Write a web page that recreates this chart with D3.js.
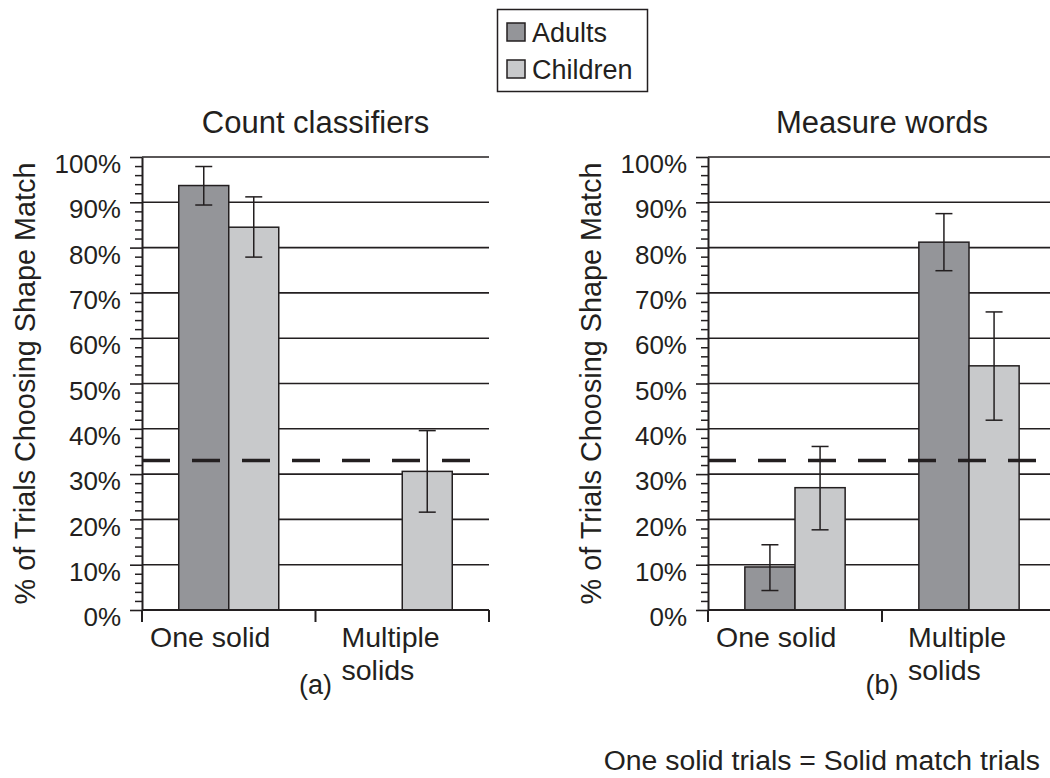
<!DOCTYPE html>
<html>
<head>
<meta charset="utf-8">
<script src="https://cdn.jsdelivr.net/npm/d3@7"></script>
<style>
  body { margin: 0; background: #fff; }
  text { font-family: 'Liberation Sans', Arial, sans-serif; fill: #231f20; }
</style>
</head>
<body>
<svg class="chart"></svg>
<script>
// data (% of trials)
const categories = ['One solid', 'Multiple solids'];
const groups = ['Adults', 'Children'];
const yTicks = [0, 10, 20, 30, 40, 50, 60, 70, 80, 90, 100];

const countAdults = [93.7, null];
const countAdultsErr = [[89.4, 97.9], null];
const countChildren = [84.5, 30.6];
const countChildrenErr = [[77.9, 91.2], [21.6, 39.6]];

const measureAdults = [9.5, 81.2];
const measureAdultsErr = [[4.3, 14.4], [74.9, 87.5]];
const measureChildren = [27.0, 53.9];
const measureChildrenErr = [[17.7, 36.1], [41.9, 65.8]];

const chance = 33;

const colors = { Adults: '#949599', Children: '#c8c9cb' };
const ink = '#231f20';

const svgWidth = 1050;
const svgHeight = 778;

const svg = d3.select('.chart')
  .attr('width', svgWidth)
  .attr('height', svgHeight);

svg.append('rect').attr('width', svgWidth).attr('height', svgHeight).attr('fill', '#fff');

const yScale = d3.scaleLinear().domain([0, 100]).range([610, 157]);

function drawPanel(opts) {
  const xScale = d3.scaleBand()
    .domain(categories)
    .range([opts.left, opts.right])
    .padding(0);

  const groupScale = d3.scaleBand()
    .domain(groups)
    .range([0, xScale.bandwidth()])
    .paddingInner(0)
    .paddingOuter(0.735);

  const g = svg.append('g');

  // gridlines
  g.selectAll('.grid')
    .data(yTicks.filter(d => d > 0))
    .enter()
    .append('line')
    .attr('x1', opts.left)
    .attr('x2', opts.right)
    .attr('y1', d => yScale(d))
    .attr('y2', d => yScale(d))
    .attr('stroke', ink)
    .attr('stroke-width', 1.6);

  // bars
  const rows = [];
  categories.forEach((c, i) => {
    rows.push({ cat: c, grp: 'Adults', v: opts.adults[i], err: opts.adultsErr[i] });
    rows.push({ cat: c, grp: 'Children', v: opts.children[i], err: opts.childrenErr[i] });
  });
  const shown = rows.filter(d => d.v !== null);

  g.selectAll('.bar')
    .data(shown)
    .enter()
    .append('rect')
    .attr('x', d => xScale(d.cat) + groupScale(d.grp))
    .attr('width', groupScale.bandwidth())
    .attr('y', d => yScale(d.v))
    .attr('height', d => yScale(0) - yScale(d.v))
    .attr('fill', d => colors[d.grp])
    .attr('stroke', ink)
    .attr('stroke-width', 1.5);

  // y axis: major and minor ticks
  const minor = d3.range(0, 101, 2).filter(d => d % 10 !== 0);
  const minorAxis = g.append('g')
    .attr('transform', 'translate(' + opts.left + ',0)')
    .call(d3.axisLeft(yScale).tickValues(minor).tickSize(7).tickFormat(''));
  minorAxis.select('.domain').remove();
  minorAxis.selectAll('line').attr('stroke', ink).attr('stroke-width', 1.5);

  const yAxis = g.append('g')
    .attr('transform', 'translate(' + opts.left + ',0)')
    .call(d3.axisLeft(yScale).tickValues(yTicks).tickSize(12).tickSizeOuter(0).tickPadding(9).tickFormat(d => d + '%'));
  yAxis.select('.domain').attr('stroke', ink).attr('stroke-width', 2);
  yAxis.selectAll('line').attr('stroke', ink).attr('stroke-width', 1.6);
  yAxis.selectAll('text')
    .attr('font-size', '26px')
    .attr('font-family', "'Liberation Sans', Arial, sans-serif")
    .attr('fill', ink)
    .attr('dy', '0.6em');

  // x axis baseline and band ticks
  g.append('line')
    .attr('x1', opts.left).attr('x2', opts.right)
    .attr('y1', yScale(0)).attr('y2', yScale(0))
    .attr('stroke', ink).attr('stroke-width', 2);

  const bounds = [opts.left].concat(categories.map(c => xScale(c) + xScale.bandwidth()));
  g.selectAll('.xtick')
    .data(bounds)
    .enter()
    .append('line')
    .attr('x1', d => d).attr('x2', d => d)
    .attr('y1', yScale(0)).attr('y2', yScale(0) + 12)
    .attr('stroke', ink).attr('stroke-width', 2);

  // category labels (wrapped, left aligned like the original)
  const labelOffsets = [8, 26];
  categories.forEach((c, i) => {
    const words = c === 'One solid' ? ['One solid'] : ['Multiple', 'solids'];
    const t = g.append('text')
      .attr('x', xScale(c) + labelOffsets[i])
      .attr('y', 647)
      .attr('font-size', '28.5px');
    words.forEach((w, j) => {
      t.append('tspan')
        .attr('x', xScale(c) + labelOffsets[i])
        .attr('dy', j === 0 ? 0 : 33)
        .text(w);
    });
  });

  // error bars
  const errRows = shown.filter(d => d.err);
  const cx = d => xScale(d.cat) + groupScale(d.grp) + groupScale.bandwidth() / 2;
  g.selectAll('.err')
    .data(errRows)
    .enter()
    .append('line')
    .attr('x1', cx).attr('x2', cx)
    .attr('y1', d => yScale(d.err[0]))
    .attr('y2', d => yScale(d.err[1]))
    .attr('stroke', ink).attr('stroke-width', 1.5);
  errRows.forEach(d => {
    d.err.forEach(e => {
      g.append('line')
        .attr('x1', cx(d) - 8.5).attr('x2', cx(d) + 8.5)
        .attr('y1', yScale(e)).attr('y2', yScale(e))
        .attr('stroke', ink).attr('stroke-width', 1.5);
    });
  });

  // chance line
  g.append('line')
    .attr('x1', opts.left).attr('x2', opts.right)
    .attr('y1', yScale(chance)).attr('y2', yScale(chance))
    .attr('stroke', ink)
    .attr('stroke-width', 3.5)
    .attr('stroke-dasharray', '28,22');

  // title
  g.append('text')
    .attr('x', (opts.left + opts.right) / 2)
    .attr('y', 133)
    .attr('text-anchor', 'middle')
    .attr('font-size', '31px')
    .text(opts.title);

  // y label
  g.append('text')
    .attr('transform', 'rotate(-90)')
    .attr('x', -(yScale(0) + yScale(100)) / 2)
    .attr('y', opts.left - 107)
    .attr('text-anchor', 'middle')
    .attr('font-size', '28.8px')
    .text('% of Trials Choosing Shape Match');

  // panel letter
  g.append('text')
    .attr('x', (opts.left + opts.right) / 2)
    .attr('y', 694)
    .attr('text-anchor', 'middle')
    .attr('font-size', '27px')
    .text(opts.letter);
}

drawPanel({
  left: 142, right: 489, title: 'Count classifiers', letter: '(a)',
  adults: countAdults, adultsErr: countAdultsErr,
  children: countChildren, childrenErr: countChildrenErr
});

drawPanel({
  left: 708, right: 1056, title: 'Measure words', letter: '(b)',
  adults: measureAdults, adultsErr: measureAdultsErr,
  children: measureChildren, childrenErr: measureChildrenErr
});

// legend
const legend = svg.append('g');
legend.append('rect')
  .attr('x', 497.5).attr('y', 9.5)
  .attr('width', 150).attr('height', 82)
  .attr('fill', '#fff')
  .attr('stroke', ink).attr('stroke-width', 1.5);

groups.forEach((grp, i) => {
  legend.append('rect')
    .attr('x', 507).attr('y', 23 + i * 37)
    .attr('width', 18).attr('height', 18)
    .attr('fill', colors[grp])
    .attr('stroke', ink).attr('stroke-width', 1.5);
  legend.append('text')
    .attr('x', 532).attr('y', 42 + i * 37)
    .attr('font-size', '27px')
    .text(grp);
});

// footnote
svg.append('text')
  .attr('x', 1040).attr('y', 770)
  .attr('text-anchor', 'end')
  .attr('font-size', '28.4px')
  .text('One solid trials = Solid match trials');
</script>
</body>
</html>
